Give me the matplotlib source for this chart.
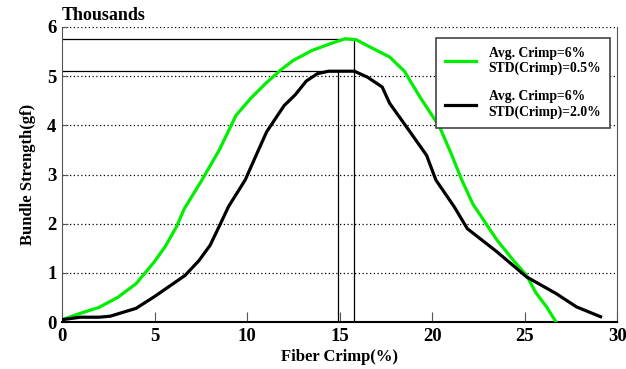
import matplotlib
matplotlib.use("Agg")
import matplotlib.pyplot as plt

# values (x = fiber crimp %, y = thousands of gf)
crimp_green = [0, 1, 2, 3, 4, 5, 5.6, 6.2, 6.6, 7.5, 8.5, 9.4, 10.2, 11, 11.8, 12.5,
               13.5, 14.5, 15.3, 15.9, 16.6, 17.7, 18.5, 19.3, 20.4, 21, 21.6,
               22.2, 23.5, 24.4, 25.1, 25.6, 26.2, 26.7]
strength_green = [0.05, 0.18, 0.3, 0.5, 0.78, 1.23, 1.55, 1.95, 2.3, 2.85, 3.5, 4.2,
                  4.55, 4.85, 5.12, 5.32, 5.52, 5.66, 5.76, 5.74, 5.6, 5.39, 5.1,
                  4.6, 3.97, 3.45, 2.89, 2.4, 1.67, 1.25, 0.95, 0.6, 0.3, 0.0]

crimp_black = [0, 1, 2, 2.6, 4.0, 5, 6, 6.65, 7.4, 8.0, 8.5, 9.0, 9.9, 10.5, 11.06,
               12, 12.6, 13.2, 13.8, 14.4, 15.0, 15.8, 16.5, 17.3, 17.7, 18.8,
               19.7, 20.2, 21.2, 21.9, 23.5, 25.1, 26.7, 27.8, 29.1]
strength_black = [0.05, 0.1, 0.1, 0.12, 0.28, 0.52, 0.78, 0.95, 1.25, 1.56, 1.95,
                  2.35, 2.89, 3.4, 3.87, 4.4, 4.62, 4.9, 5.05, 5.1, 5.1, 5.1, 4.98,
                  4.78, 4.45, 3.87, 3.39, 2.89, 2.34, 1.9, 1.43, 0.92, 0.58, 0.31, 0.11]

peak_green = (15.8, 5.75)
peak_black = (14.9, 5.1)

labels = ["Avg. Crimp=6%\nSTD(Crimp)=0.5%", "Avg. Crimp=6%\nSTD(Crimp)=2.0%"]

plt.rcParams['font.family'] = ['Liberation Serif', 'DejaVu Serif']
plt.rcParams['font.weight'] = 'bold'

fig = plt.figure(figsize=(6.26, 3.69), dpi=100)
ax = fig.add_axes([0.099, 0.127, 0.887, 0.8])

ax.set_xlim(0, 30)
ax.set_ylim(0, 6)
ax.set_xticks([0, 5, 10, 15, 20, 25, 30])
ax.set_yticks([0, 1, 2, 3, 4, 5, 6])

for yv in [1, 2, 3, 4, 5, 6]:
    ax.axhline(yv, color='black', lw=0.9, ls=(0, (1, 2)), zorder=1)

# reference lines to the peaks
for px, py in [peak_green, peak_black]:
    ax.plot([0, px], [py, py], color='black', lw=0.9, zorder=2)
    ax.plot([px, px], [0, py], color='black', lw=0.9, zorder=2)

ax.plot(crimp_green, strength_green, color='#00ee00', lw=2.3, label=labels[0], zorder=3)
ax.plot(crimp_black, strength_black, color='black', lw=2.3, label=labels[1], zorder=3)

ax.spines['top'].set_visible(False)
ax.spines['bottom'].set_linestyle((0, (1, 1)))
ax.spines['bottom'].set_linewidth(1.5)
ax.spines['left'].set_color('#555555')
ax.spines['right'].set_color('#555555')

ax.tick_params(direction='in', length=7, color='#555555', labelsize=13.5, pad=4)
ax.tick_params(axis='y', length=4)
for t in ax.get_xticklabels() + ax.get_yticklabels():
    t.set_fontweight('bold')

ax.set_xlabel('Fiber Crimp(%)', fontsize=12, fontweight='bold', labelpad=3)
ax.set_ylabel('Bundle Strength(gf)', fontsize=12, fontweight='bold', labelpad=8)
fig.text(0.099, 0.945, 'Thousands', fontsize=13, fontweight='bold')

leg = ax.legend(loc='upper right', bbox_to_anchor=(0.987, 0.963),
                borderaxespad=0, frameon=True, fancybox=False, edgecolor='#444444',
                handlelength=2.3, handletextpad=0.9, labelspacing=1.1,
                borderpad=0.65, framealpha=1,
                prop={'weight': 'bold', 'size': 9.8})
leg.get_frame().set_linewidth(1.2)
leg.set_zorder(5)

fig.savefig('out.png', dpi=100)
